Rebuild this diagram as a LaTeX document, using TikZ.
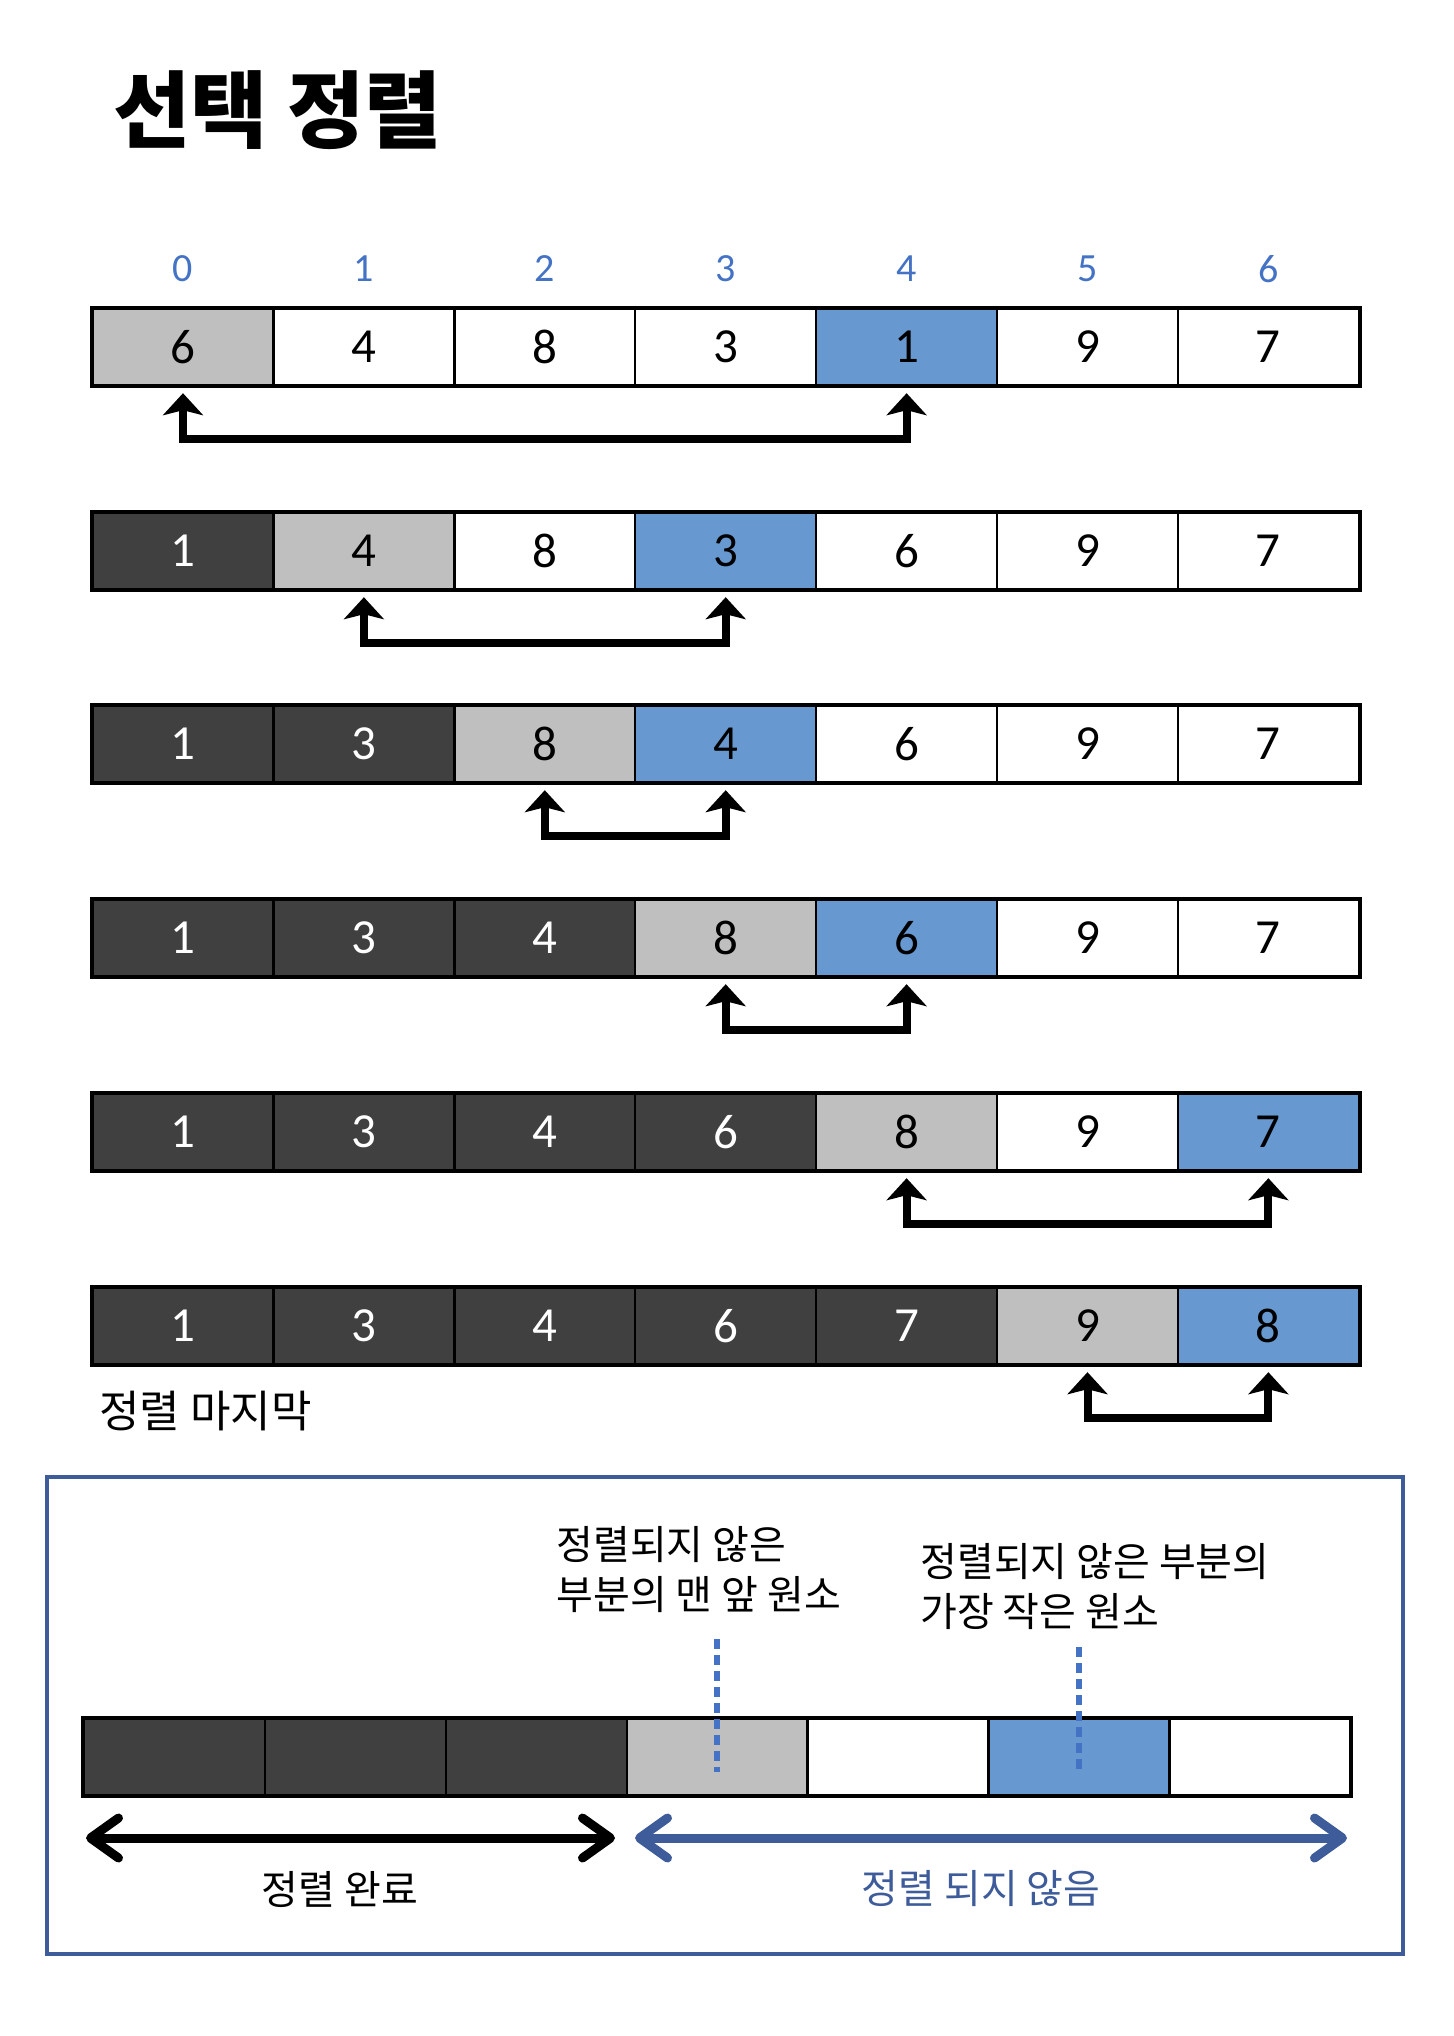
\documentclass[tikz,border=0pt]{standalone}
\usepackage{fontspec}
\setmainfont{Carlito}
\newfontfamily\kr{Noto Sans CJK KR}
\usetikzlibrary{arrows.meta,calc}
\definecolor{darkcell}{HTML}{404040}
\definecolor{graycell}{HTML}{BFBFBF}
\definecolor{bluecell}{HTML}{6799D0}
\definecolor{idxblue}{HTML}{4472C4}
\definecolor{navy}{HTML}{3E5C9A}
\tikzset{
  cell/.style={draw=black, line width=1.2pt, minimum width=90.45pt, minimum height=38pt, inner sep=0pt,
    font=\fontsize{24.5}{24.5}\selectfont},
  cw/.style={fill=white},
  cg/.style={fill=graycell},
  cb/.style={fill=bluecell},
  ck/.style={fill=darkcell, text=white},
  outerbox/.style={draw=black, line width=1.6pt},
  idx/.style={text=idxblue, inner sep=0pt, font=\fontsize{20}{20}\selectfont},
  swp/.style={line width=4pt, line join=miter,
    {Stealth[length=11pt,width=20pt,inset=2.5pt]}-{Stealth[length=11pt,width=20pt,inset=2.5pt]}},
  legarr/.style={line width=4.5pt, {Straight Barb[length=14pt,width=20pt,round]}-{Straight Barb[length=14pt,width=20pt,round]}},
  dsh/.style={draw=idxblue, line width=3pt, dash pattern=on 5pt off 3pt},
  krtext/.style={inner sep=0pt, font=\kr\fontsize{20}{25}\selectfont, align=left},
}
\newcommand\cellrow[3]{%
  \foreach \v/\s [count=\i from 0] in {#3} {
    \node[cell,\s] (#1c\i) at (183+\i*180.9, #2) {\v};
  }
  \draw[outerbox] (#1c0.north west) rectangle (#1c6.south east);
}
\begin{document}
\begin{tikzpicture}[x=0.5pt,y=-0.5pt]
\useasboundingbox (0,0) rectangle (1454,2036);
% title
\node[anchor=west, inner sep=0pt, font=\kr\bfseries\fontsize{42}{42}\selectfont] (title) at (113,110) {선택 정렬};
% index labels
\foreach \i in {0,...,6} {
  \node[idx] (idx\i) at (183+\i*180.9, 269) {\i};
}
% rows
\cellrow{ra}{347}{6/cg,4/cw,8/cw,3/cw,1/cb,9/cw,7/cw}
\cellrow{rb}{551}{1/ck,4/cg,8/cw,3/cb,6/cw,9/cw,7/cw}
\cellrow{rc}{744}{1/ck,3/ck,8/cg,4/cb,6/cw,9/cw,7/cw}
\cellrow{rd}{938}{1/ck,3/ck,4/ck,8/cg,6/cb,9/cw,7/cw}
\cellrow{re}{1132}{1/ck,3/ck,4/ck,6/ck,8/cg,9/cw,7/cb}
\cellrow{rf}{1326}{1/ck,3/ck,4/ck,6/ck,7/ck,9/cg,8/cb}
% swap arrows
\draw[swp] ($(rac0.south)+(0,7)$) -- ++(0,46) -| ($(rac4.south)+(0,7)$);
\draw[swp] ($(rbc1.south)+(0,7)$) -- ++(0,46) -| ($(rbc3.south)+(0,7)$);
\draw[swp] ($(rcc2.south)+(0,7)$) -- ++(0,46) -| ($(rcc3.south)+(0,7)$);
\draw[swp] ($(rdc3.south)+(0,7)$) -- ++(0,46) -| ($(rdc4.south)+(0,7)$);
\draw[swp] ($(rec4.south)+(0,7)$) -- ++(0,46) -| ($(rec6.south)+(0,7)$);
\draw[swp] ($(rfc5.south)+(0,7)$) -- ++(0,46) -| ($(rfc6.south)+(0,7)$);
% last label
\node[anchor=west, inner sep=0pt, font=\kr\fontsize{22}{22}\selectfont] (lastlbl) at (99,1411) {정렬 마지막};
% legend box
\draw[draw=navy, line width=2pt] (47,1477) rectangle (1403,1954);
\foreach \s [count=\i from 0] in {ck,ck,ck,cg,cw,cb,cw} {
  \node[cell,\s] (lc\i) at (174.45+\i*180.9, 1757) {};
}
\draw[outerbox] (lc0.north west) rectangle (lc6.south east);
% dashed markers
\draw[dsh] (lc3.center |- 0,1639) -- (lc3.center |- 0,1772);
\draw[dsh] (lc5.center |- 0,1647) -- (lc5.center |- 0,1774);
% annotations
\node[krtext, anchor=west] (ann1) at (556,1569.5) {정렬되지 않은\\부분의 맨 앞 원소};
\node[krtext, anchor=west] (ann2) at (920,1586) {정렬되지 않은 부분의\\가장 작은 원소};
% range arrows
\coordinate (da) at (86,1838);
\coordinate (db) at (615,1838);
\coordinate (ua) at (635,1838);
\coordinate (ub) at (1347,1838);
\draw[legarr, draw=black] (da) -- (db);
\draw[legarr, draw=navy] (ua) -- (ub);
\node[krtext] (donelbl) at (340,1889) {정렬 완료};
\node[krtext, text=navy] (undonelbl) at (981,1889) {정렬 되지 않음};
\end{tikzpicture}
\end{document}
